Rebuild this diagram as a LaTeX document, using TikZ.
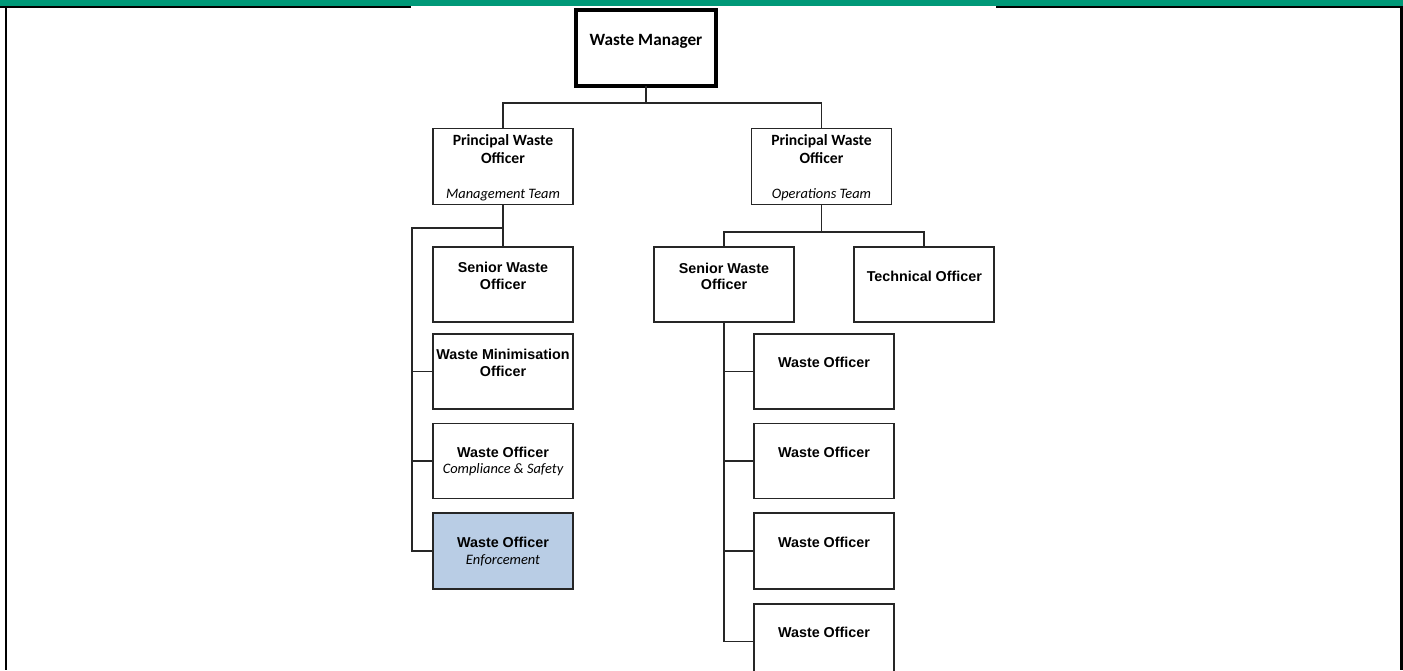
\documentclass[tikz,border=0pt]{standalone}
\usepackage{fontspec}
\setmainfont{Liberation Sans}
\newfontfamily\calfont{Carlito}
\usetikzlibrary{calc}
\definecolor{hdr}{RGB}{0,153,120}
\definecolor{enf}{RGB}{185,205,229}
\definecolor{bdr}{RGB}{38,38,38}
\begin{document}
\begin{tikzpicture}[x=0.02cm,y=-0.02cm,
  box/.style={draw=bdr,line width=0.95pt,inner sep=0,outer sep=0,minimum width=140*0.02cm,minimum height=75*0.02cm},
  conn/.style={draw=bdr,line width=1pt},
  ar/.style={anchor=base,inner sep=0,font=\fontsize{8.15}{9.7}\selectfont\bfseries},
  cb/.style={anchor=base,inner sep=0,font=\calfont\fontsize{8.9}{10}\selectfont\bfseries},
  cbw/.style={anchor=base,inner sep=0,font=\calfont\fontsize{9.8}{11}\selectfont\bfseries},
  ci/.style={anchor=base,inner sep=0,font=\calfont\fontsize{8.2}{10}\selectfont\itshape},
]
\useasboundingbox (0,0) rectangle (1403,670);
\begin{scope}
\clip (0,0) rectangle (1403,670);
% header and frame
\fill[hdr] (0,0) rectangle (1403,6.3);
\fill[black] (0,6) rectangle (411,7.6);
\fill[black] (996,6) rectangle (1403,7.6);
\fill[black] (5,6) rectangle (7.4,670);
\fill[black] (1400,6) rectangle (1403,670);

% boxes
\node[box,draw=black,line width=2.4pt,minimum width=140*0.02cm,minimum height=76*0.02cm] (wm) at (646,48) {};
\node[box,minimum height=76*0.02cm] (lpwo) at (503,166.5) {};
\node[box,minimum height=76*0.02cm] (rpwo) at (821.5,166.5) {};
\node[box] (lswo) at (503,284.8) {};
\node[box] (wmo) at (503,371.5) {};
\node[box] (woc) at (503,461) {};
\node[box,fill=enf,minimum height=76*0.02cm] (woe) at (503,551.3) {};
\node[box] (rswo) at (724,284.8) {};
\node[box] (tech) at (924.3,284.8) {};
\node[box] (wo1) at (824,371.5) {};
\node[box] (wo2) at (824,461) {};
\node[box,minimum height=76*0.02cm] (wo3) at (824,551.3) {};
\node[box] (wo4) at (824,641.5) {};

% connectors
\coordinate (j0) at (0,103);
\draw[conn] (wm.south) -- (wm.south |- j0);
\draw[conn] (lpwo.north) |- (wm.south |- j0) -| (rpwo.north);

\coordinate (lb) at (412.3,228);
\draw[conn] (lpwo.south) -- (lswo.north);
\draw[conn] (lpwo.south |- lb) -| (lb |- woe.west) -- (woe.west);
\draw[conn] (lb |- wmo.west) -- (wmo.west);
\draw[conn] (lb |- woc.west) -- (woc.west);

\coordinate (rb) at (0,231.7);
\draw[conn] (rpwo.south) -- (rpwo.south |- rb);
\draw[conn] (rswo.north) |- (rpwo.south |- rb) -| (tech.north);
\draw[conn] (rswo.south) -- (rswo.south |- wo4.west) -- (wo4.west);
\draw[conn] (rswo.south |- wo1.west) -- (wo1.west);
\draw[conn] (rswo.south |- wo2.west) -- (wo2.west);
\draw[conn] (rswo.south |- wo3.west) -- (wo3.west);

% texts
\node[cbw] (twm) at (646,45.5) {Waste Manager};
\node[cb] (tlp1) at (503,145) {Principal Waste};
\node[cb] (tlp2) at (503,163) {Officer};
\node[ci] (tlp3) at (503,198) {Management Team};
\node[cb] (trp1) at (821.5,145) {Principal Waste};
\node[cb] (trp2) at (821.5,163) {Officer};
\node[ci] (trp3) at (821.5,198) {Operations Team};
\node[ar] (tls1) at (503,272) {Senior Waste};
\node[ar] (tls2) at (503,289) {Officer};
\node[ar] (tmo1) at (503,359) {Waste Minimisation};
\node[ar] (tmo2) at (503,376) {Officer};
\node[ar] (tc1) at (503,457) {Waste Officer};
\node[ci] (tc2) at (503,473.5) {Compliance \& Safety};
\node[ar] (te1) at (503,547) {Waste Officer};
\node[ci] (te2) at (503,564) {Enforcement};
\node[ar] (trs1) at (724,273) {Senior Waste};
\node[ar] (trs2) at (724,289.5) {Officer};
\node[ar] (tt) at (924.3,281) {Technical Officer};
\node[ar] (tw1) at (824,367.7) {Waste Officer};
\node[ar] (tw2) at (824,457) {Waste Officer};
\node[ar] (tw3) at (824,547) {Waste Officer};
\node[ar] (tw4) at (824,637.5) {Waste Officer};
\end{scope}
\end{tikzpicture}
\end{document}
